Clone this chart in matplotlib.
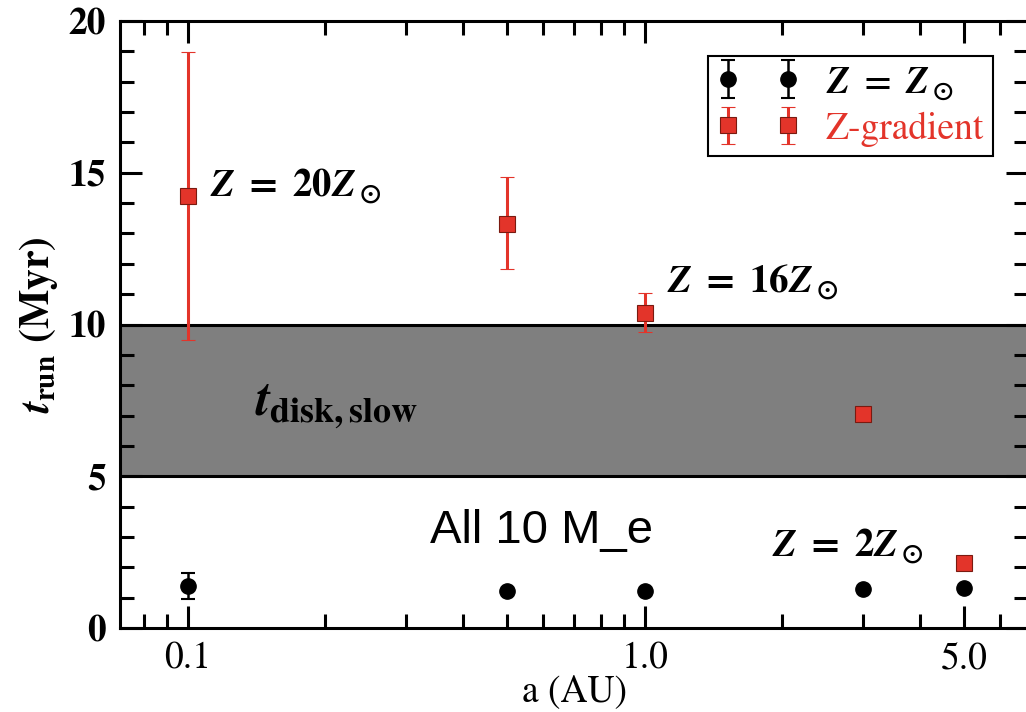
import matplotlib
matplotlib.use("Agg")
import matplotlib.pyplot as plt
from matplotlib.ticker import FixedLocator, FixedFormatter, NullFormatter

plt.rcParams['font.family'] = ['STIXGeneral', 'DejaVu Serif']
plt.rcParams['mathtext.fontset'] = 'custom'
plt.rcParams['mathtext.rm'] = 'STIXGeneral:bold'
plt.rcParams['mathtext.bf'] = 'STIXGeneral:bold'
plt.rcParams['mathtext.it'] = 'STIXGeneral:italic:bold'

# data
a_solar = [0.1, 0.5, 1.0, 3.0, 5.0]
t_solar = [1.37, 1.22, 1.22, 1.27, 1.31]
t_solar_lo = [0.42, 0.0, 0.0, 0.0, 0.0]
t_solar_hi = [0.45, 0.0, 0.0, 0.0, 0.0]

a_grad = [0.1, 0.5, 1.0, 3.0, 5.0]
t_grad = [14.23, 13.31, 10.38, 7.05, 2.14]
t_grad_lo = [4.74, 1.48, 0.63, 0.0, 0.0]
t_grad_hi = [4.75, 1.55, 0.66, 0.0, 0.0]

disk_band = (5, 10)

xticks_major = [0.1, 1.0, 5.0]
xtick_labels = ['0.1', '1.0', '5.0']
xticks_minor = [0.08, 0.09, 0.2, 0.3, 0.4, 0.5, 0.6, 0.7, 0.8, 0.9, 2, 3, 4, 6]
yticks_major = [0, 5, 10, 15, 20]

red = '#e3342a'

fig = plt.figure(figsize=(10.26, 7.12), dpi=100)
ax = fig.add_axes([120 / 1026, 84 / 712, 908 / 1026, 607 / 712])

ax.axhspan(disk_band[0], disk_band[1], color='#7f7f7f', zorder=0)
ax.axhline(disk_band[0], color='black', lw=2.2, zorder=1)
ax.axhline(disk_band[1], color='black', lw=2.2, zorder=1)

ax.errorbar(a_solar, t_solar, yerr=[t_solar_lo, t_solar_hi], fmt='o', color='black',
            ms=11, capsize=5, elinewidth=1.8, capthick=1.5, label=r'$Z\;=\;Z_\odot$',
            zorder=3)
ax.errorbar(a_grad, t_grad, yerr=[t_grad_lo, t_grad_hi], fmt='s', color=red, mfc=red,
            mec='#7a1a10', mew=0.8, ms=11, capsize=5, elinewidth=2.2, capthick=1.5,
            label='Z-gradient', zorder=3)

ax.set_xscale('log')
ax.set_xlim(0.071, 6.9)
ax.set_ylim(0, 20)

ax.xaxis.set_major_locator(FixedLocator(xticks_major))
ax.xaxis.set_major_formatter(FixedFormatter(xtick_labels))
ax.xaxis.set_minor_locator(FixedLocator(xticks_minor))
ax.xaxis.set_minor_formatter(NullFormatter())
ax.yaxis.set_major_locator(FixedLocator(yticks_major))
ax.yaxis.set_major_formatter(FixedFormatter([str(v) for v in yticks_major]))
ax.yaxis.set_minor_locator(FixedLocator(range(0, 21)))

ax.tick_params(which='both', direction='in', top=True, right=True, width=2.2)
ax.tick_params(which='major', length=16, labelsize=27, pad=10)
ax.tick_params(which='minor', length=10)
for lab in ax.get_yticklabels():
    lab.set_fontweight('bold')
    lab.set_fontsize(27)
for s in ax.spines.values():
    s.set_linewidth(2.2)

ax.set_xlabel('a (AU)', fontsize=27, labelpad=-2)
ax.set_ylabel(r'$t_{\rm run}\ \rm(Myr)$', fontsize=30, labelpad=6)

ax.text(0.112, 14.55, r'$Z\;=\;20Z_\odot$', fontsize=28, va='center')
ax.text(1.12, 11.4, r'$Z\;=\;16Z_\odot$', fontsize=28, va='center')
ax.text(1.9, 2.7, r'$Z\;=\;2Z_\odot$', fontsize=28, va='center')
ax.text(0.14, 7.3, r'$t_{\rm disk,slow}$', fontsize=37, va='center')
ax.text(0.338, 3.2, 'All 10 M_e', fontsize=34, va='center', family='Liberation Sans')

leg = ax.legend(loc='upper right', bbox_to_anchor=(0.962, 0.943), borderaxespad=0,
                numpoints=2, fancybox=False, edgecolor='black', framealpha=1,
                fontsize=27, handlelength=2.2, handletextpad=0.7, borderpad=0.25,
                labelspacing=0.25)
leg.get_frame().set_linewidth(1.5)
leg.get_texts()[1].set_color(red)

fig.savefig('out.png', dpi=100)
